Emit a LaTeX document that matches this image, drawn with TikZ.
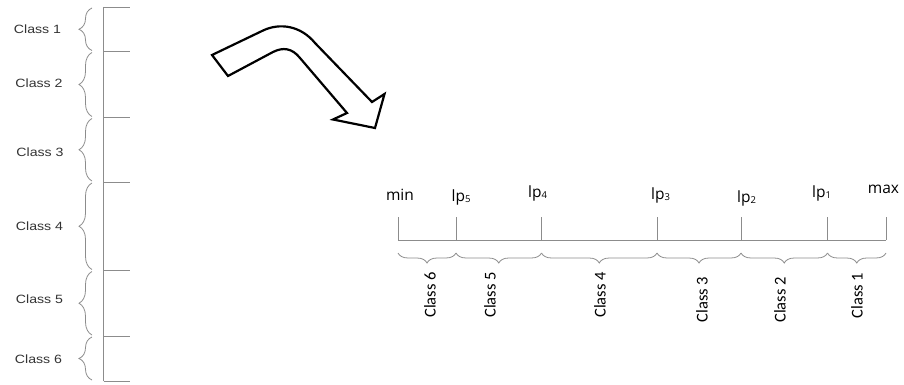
\documentclass[tikz,border=0pt]{standalone}
\usepackage{fontspec}
\setmainfont{Liberation Sans}
\newfontfamily\labfont{Open Sans}
\newfontfamily\rotfont{Carlito}
\usetikzlibrary{decorations.pathreplacing}
\definecolor{axisgray}{HTML}{8C8C8C}
\definecolor{txtgray}{HTML}{333333}
\tikzset{
  axisline/.style={draw=axisgray, line width=0.9pt},
  lbrace/.style={draw=axisgray, line width=0.8pt, decorate, decoration={brace, amplitude=13pt}},
  rbrace/.style={draw=axisgray, line width=0.8pt, decorate, decoration={brace, amplitude=10pt}},
  leftlab/.style={anchor=base, inner sep=0pt, text=txtgray, font=\fontsize{12}{12}\selectfont},
  toplab/.style={anchor=base, inner sep=0pt, font=\labfont\fontsize{15.5}{15.5}\selectfont},
  rotlab/.style={anchor=center, inner sep=0pt, rotate=90, font=\rotfont\fontsize{16.5}{16.5}\selectfont},
  bigarrow/.style={draw=black, fill=white, line width=2.2pt, line join=miter},
}
\newcommand{\lpsub}[1]{lp\raisebox{-1.2pt}{\fontsize{9.5}{9.5}\selectfont #1}}
\newcommand{\wide}[1]{\scalebox{1.18}[1]{#1}}
\begin{document}
\begin{tikzpicture}[x=1pt,y=-1pt]
\useasboundingbox (0,0) rectangle (904,385);
% ---------- left vertical scale ----------
\coordinate (vt) at (103.5,7);
\coordinate (vb) at (103.5,381);
\draw[axisline] (vt) -- (vb);
\foreach \n/\y in {0/7,1/51.5,2/117.5,3/182,4/270.5,5/336,6/381}{
  \coordinate (L\n) at (103.5,\y);
  \coordinate (LE\n) at (130,\y);
  \draw[axisline] (L\n) -- (LE\n);
}
\foreach \a/\b/\c in {7/51.5/1,51.5/117.5/2,117.5/182/3,182/270.5/4,270.5/336/5,336/381/6}{
  \coordinate (BS\c) at (92,\b-1);
  \coordinate (BE\c) at (92,\a+1);
  \draw[lbrace] (BS\c) -- (BE\c);
}
\node[leftlab] (c1) at (37.5,33.3) {\wide{Class 1}};
\node[leftlab] (c2) at (39,87.3) {\wide{Class 2}};
\node[leftlab] (c3) at (40,156) {\wide{Class 3}};
\node[leftlab] (c4) at (39.5,230.7) {\wide{Class 4}};
\node[leftlab] (c5) at (39.5,303.3) {\wide{Class 5}};
\node[leftlab] (c6) at (38.5,363.3) {\wide{Class 6}};
% ---------- bent arrow ----------
\draw[bigarrow] (212,55) -- (262,31)
  .. controls (280,22) and (301,26) .. (315,43)
  -- (372,102) -- (384.5,94) -- (375,128) -- (333,119.5) -- (347,113)
  -- (300,58)
  .. controls (292,48) and (283,47) .. (273,52)
  -- (228,76) -- cycle;
% ---------- right horizontal scale ----------
\coordinate (ha) at (398,240);
\coordinate (hb) at (886,240);
\draw[axisline] (ha) -- (hb);
\foreach \n/\x in {0/398,1/456,2/541.5,3/657,4/741,5/827.5,6/886}{
  \coordinate (T\n) at (\x,240);
  \coordinate (TT\n) at (\x,217);
  \draw[axisline] (T\n) -- (TT\n);
}
\foreach \a/\b/\c in {398/456/6,456/541.5/5,541.5/657/4,657/741/3,741/827.5/2,827.5/886/1}{
  \coordinate (RS\c) at (\b,253);
  \coordinate (RE\c) at (\a,253);
  \draw[rbrace] (RS\c) -- (RE\c);
}
\node[toplab] (tmin) at (400,200) {min};
\node[toplab] (t5) at (461,201) {\lpsub{5}};
\node[toplab] (t4) at (537.5,197) {\lpsub{4}};
\node[toplab] (t3) at (660.5,199) {\lpsub{3}};
\node[toplab] (t2) at (746.5,202.5) {\lpsub{2}};
\node[toplab] (t1) at (821.5,197.5) {\lpsub{1}};
\node[toplab] (tmax) at (883.5,193) {max};
\node[rotlab] (r6) at (430,295) {Class 6};
\node[rotlab] (r5) at (490,295) {Class 5};
\node[rotlab] (r4) at (600,295) {Class 4};
\node[rotlab] (r3) at (702,299.5) {Class 3};
\node[rotlab] (r2) at (780,300) {Class 2};
\node[rotlab] (r1) at (857,295.5) {Class 1};
\end{tikzpicture}
\end{document}
